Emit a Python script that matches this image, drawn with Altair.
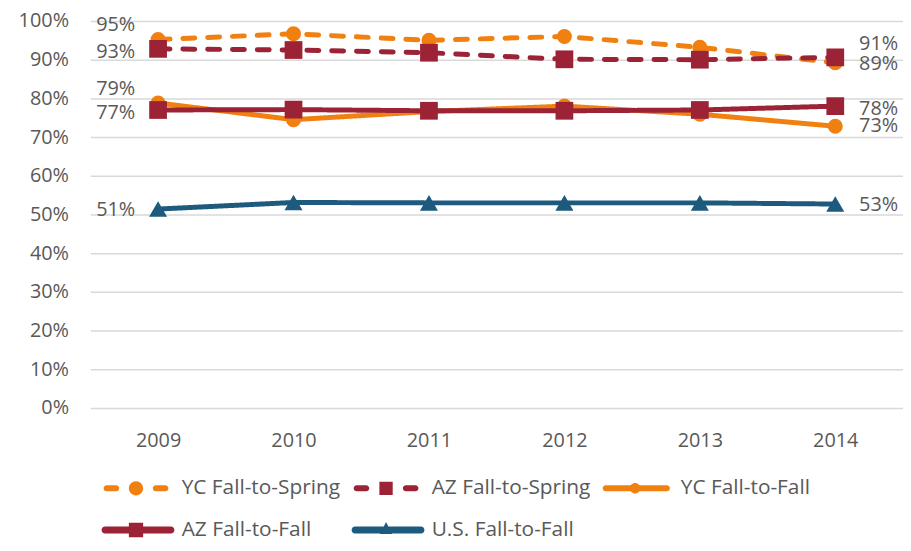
import altair as alt
import pandas as pd

# ---------------- data ----------------
years = ["2009", "2010", "2011", "2012", "2013", "2014"]
series_names = [
    "YC Fall-to-Spring",
    "AZ Fall-to-Spring",
    "YC Fall-to-Fall",
    "AZ Fall-to-Fall",
    "U.S. Fall-to-Fall",
]
yc_fall_to_spring = [95.2, 96.7, 95.0, 96.0, 93.2, 89.2]
az_fall_to_spring = [92.8, 92.5, 91.8, 90.1, 90.0, 90.6]
yc_fall_to_fall = [78.8, 74.5, 76.6, 78.0, 75.9, 72.8]
az_fall_to_fall = [77.0, 77.1, 76.8, 76.8, 77.0, 78.0]
us_fall_to_fall = [51.4, 53.1, 53.0, 53.0, 53.0, 52.7]
y_ticks = [0, 10, 20, 30, 40, 50, 60, 70, 80, 90, 100]

values_by_series = [yc_fall_to_spring, az_fall_to_spring, yc_fall_to_fall,
                    az_fall_to_fall, us_fall_to_fall]

rows = []
for name, vals in zip(series_names, values_by_series):
    for yr, v in zip(years, vals):
        rows.append({"year": yr, "series": name, "value": v})
df = pd.DataFrame(rows)

# ---------------- styles ----------------
FONT = "Open Sans"
FS = 20
TXT = "#595959"
colors = ["#F08010", "#9B2335", "#F08010", "#9B2335", "#1D5A7E"]
dashes = [[12, 13], [12, 13], [1, 0], [1, 0], [1, 0]]
marker_groups = [
    ("circle", 230, ["YC Fall-to-Spring", "YC Fall-to-Fall"]),
    ("square", 320, ["AZ Fall-to-Spring", "AZ Fall-to-Fall"]),
    ("triangle-up", 330, ["U.S. Fall-to-Fall"]),
]

# legend symbols: line + marker drawn as custom paths (unit = 16 px)
def capsule(x0, x1, h):
    return (f"M{x0},{-h}L{x1},{-h}A{h},{h},0,0,1,{x1},{h}"
            f"L{x0},{h}A{h},{h},0,0,1,{x0},{-h}Z")

def circ(r):
    return f"M{-r},0A{r},{r},0,1,1,{r},0A{r},{r},0,1,1,{-r},0Z"

def sq(a):
    return f"M{-a},{-a}L{a},{-a}L{a},{a}L{-a},{a}Z"

tri = "M0,-0.5L0.38,0.25L-0.38,0.25Z"
legend_paths = [
    capsule(-1.85, -1.25, 0.19) + circ(0.45) + capsule(1.25, 1.85, 0.19),
    capsule(-1.85, -1.25, 0.19) + sq(0.42) + capsule(1.25, 1.85, 0.19),
    capsule(-1.85, 2.0, 0.19) + circ(0.33),
    capsule(-1.95, 2.2, 0.22) + sq(0.45),
    capsule(-1.95, 2.2, 0.22) + tri,
]

x_enc = alt.X(
    "year:O",
    sort=years,
    scale=alt.Scale(domain=years, paddingOuter=0.5),
    axis=alt.Axis(title=None, labelAngle=0, ticks=False, tickSize=0, domain=False,
                  grid=False, labelFont=FONT, labelFontSize=FS, labelColor=TXT,
                  labelPadding=23),
)
y_enc = alt.Y(
    "value:Q",
    scale=alt.Scale(domain=[0, 100], nice=False, zero=True),
    axis=alt.Axis(title=None, values=y_ticks, labelExpr="datum.value + '%'",
                  ticks=False, tickSize=0, domain=False, grid=True,
                  gridColor="#D9D9D9", gridWidth=1.5, labelFont=FONT,
                  labelFontSize=FS, labelColor=TXT, labelPadding=22),
)
color_scale = alt.Scale(domain=series_names, range=colors)

base = alt.Chart(df)

lines = base.mark_line(strokeWidth=5, strokeCap="round").encode(
    x=x_enc,
    y=y_enc,
    color=alt.Color("series:N", scale=color_scale, legend=None),
    strokeDash=alt.StrokeDash("series:N",
                              scale=alt.Scale(domain=series_names, range=dashes),
                              legend=None),
    detail="series:N",
)

point_layers = []
for shp, sz, members in marker_groups:
    point_layers.append(
        base.transform_filter(
            alt.FieldOneOfPredicate(field="series", oneOf=members)
        ).mark_point(filled=True, opacity=1, shape=shp, size=sz).encode(
            x=x_enc,
            y=y_enc,
            color=alt.Color("series:N", scale=color_scale, legend=None),
        )
    )

leg = alt.Legend(
    title=None, orient="none", legendX=14, legendY=455, direction="horizontal",
    columns=3, columnPadding=11, rowPadding=16, padding=0,
    labelFont=FONT, labelFontSize=21, labelColor=TXT, labelLimit=400,
    symbolSize=1024, symbolOffset=16, labelOffset=30, symbolOpacity=1,
    symbolStrokeWidth=0,
)
legend_layer = base.mark_point(filled=True, opacity=0, size=1024).encode(
    x=x_enc,
    y=y_enc,
    color=alt.Color("series:N", scale=color_scale, legend=leg),
    shape=alt.Shape("series:N",
                    scale=alt.Scale(domain=series_names, range=legend_paths),
                    legend=leg),
)

# value labels at first and last year: (left dy, right dy)
label_dy = {
    "YC Fall-to-Spring": (-15, 1.5),
    "AZ Fall-to-Spring": (3, -13),
    "YC Fall-to-Fall": (-14, 0),
    "AZ Fall-to-Fall": (3, 3),
    "U.S. Fall-to-Fall": (1, 1),
}
text_layers = []
for name in series_names:
    dl, dr = label_dy[name]
    for yr, align, dx, dy in [(years[0], "right", -23, dl), (years[-1], "left", 24, dr)]:
        t = base.transform_filter(
            (alt.datum.series == name) & (alt.datum.year == yr)
        ).transform_calculate(
            label="format(datum.value, '.0f') + '%'"
        ).mark_text(align=align, baseline="middle", dx=dx, dy=dy, font=FONT,
                    fontSize=FS, color=TXT).encode(
            x=x_enc, y=y_enc, text="label:N"
        )
        text_layers.append(t)

chart = alt.layer(legend_layer, lines, *point_layers, *text_layers).properties(
    width=819,
    height=390,
    autosize=alt.AutoSizeParams(type="none"),
    padding={"left": 83, "top": 11, "right": 0, "bottom": 134},
    background="white",
).configure_view(stroke=None)

chart.save("out.html", embed_options={"renderer": "svg", "actions": False})
